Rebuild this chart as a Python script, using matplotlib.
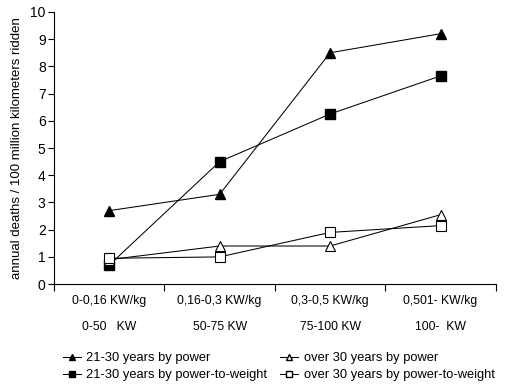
import matplotlib
matplotlib.use('Agg')
import matplotlib.pyplot as plt
from matplotlib.lines import Line2D

plt.rcParams['font.family'] = ['Liberation Sans', 'DejaVu Sans']

# category labels (two rows under each group)
ratio_labels = ['0-0,16 KW/kg', '0,16-0,3 KW/kg', '0,3-0,5 KW/kg', '0,501- KW/kg']
power_labels = ['0-50   KW', '50-75 KW', '75-100 KW', '100-  KW']

# series values
young_power = [2.7, 3.3, 8.5, 9.2]
young_ptw = [0.7, 4.5, 6.25, 7.65]
old_power = [0.9, 1.4, 1.4, 2.55]
old_ptw = [0.95, 1.0, 1.9, 2.15]

fig = plt.figure(figsize=(5.21, 3.85), dpi=100)
ax = fig.add_axes([0.1036, 0.262, 0.848, 0.707])

x = [0.5, 1.5, 2.5, 3.5]
lw = 0.75
ax.plot(x, young_power, color='black', lw=lw, marker='^', ms=7, mfc='black', mec='black',
        label='21-30 years by power', zorder=3)
ax.plot(x, young_ptw, color='black', lw=lw, marker='s', ms=6.5, mfc='black', mec='black',
        label='21-30 years by power-to-weight', zorder=3)
ax.plot(x, old_power, color='black', lw=lw, marker='^', ms=7, mfc='white', mec='black', mew=0.8,
        label='over 30 years by power', zorder=3)
ax.plot(x, old_ptw, color='black', lw=lw, marker='s', ms=6.5, mfc='white', mec='black', mew=0.8,
        label='over 30 years by power-to-weight', zorder=3)

ax.set_xlim(0, 4)
ax.set_ylim(0, 10)
ax.set_yticks(range(0, 11))
ax.set_xticks([0, 1, 2, 3, 4])
ax.set_xticklabels([])
ax.tick_params(axis='y', direction='out', length=4, width=0.8, labelsize=10, pad=2)
ax.tick_params(axis='x', direction='out', length=5, width=0.8)
for s in ['top', 'right']:
    ax.spines[s].set_visible(False)
for s in ['left', 'bottom']:
    ax.spines[s].set_linewidth(0.8)

tr = ax.get_xaxis_transform()
for xi, r, p in zip(x, ratio_labels, power_labels):
    ax.text(xi, -0.0625, r, transform=tr, ha='center', va='center', fontsize=8.8)
    ax.text(xi, -0.158, p, transform=tr, ha='center', va='center', fontsize=8.8)

ax.set_ylabel('annual deaths / 100 million kilometers ridden', fontsize=9.5, labelpad=5)

handles = [
    Line2D([], [], color='black', lw=lw, marker='^', ms=5, mfc='black', mec='black'),
    Line2D([], [], color='black', lw=lw, marker='s', ms=4.5, mfc='black', mec='black'),
    Line2D([], [], color='black', lw=lw, marker='^', ms=5, mfc='white', mec='black'),
    Line2D([], [], color='black', lw=lw, marker='s', ms=4.5, mfc='white', mec='black'),
]
labels = ['21-30 years by power', '21-30 years by power-to-weight',
          'over 30 years by power', 'over 30 years by power-to-weight']
fig.legend(handles, labels, ncol=2, loc='center', bbox_to_anchor=(0.535, 0.047),
           frameon=False, fontsize=9.3, handlelength=1.4, handletextpad=0.4,
           columnspacing=1.0, labelspacing=0.38, borderpad=0)

fig.savefig('out.png', dpi=100)
